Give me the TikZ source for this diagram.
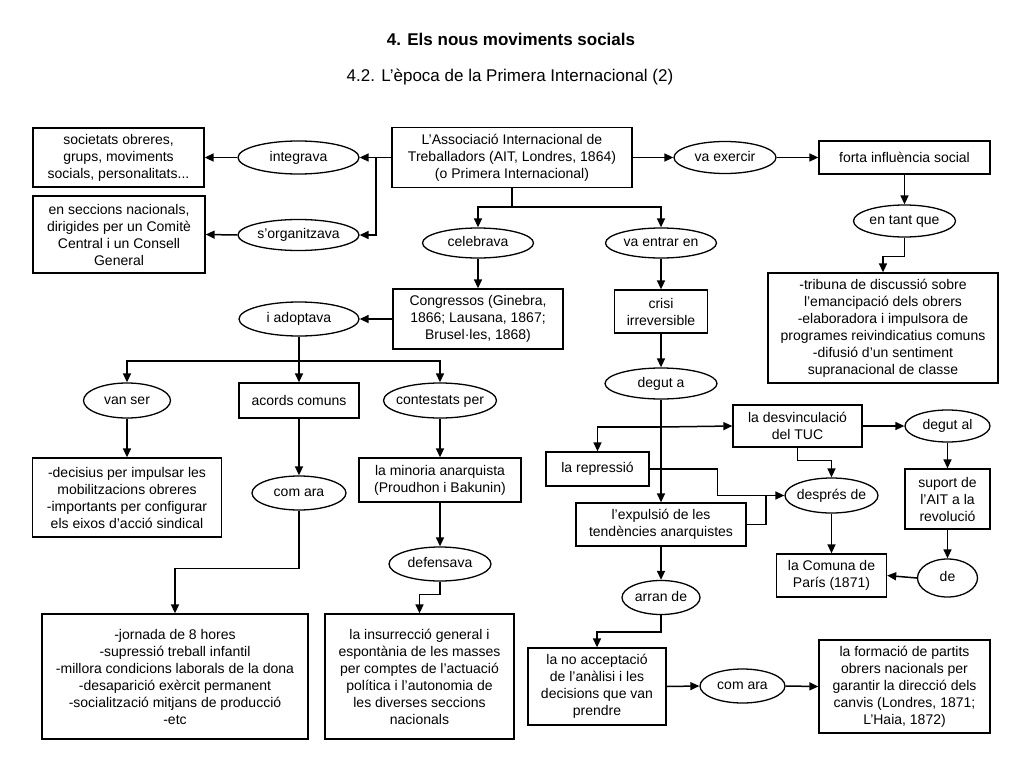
\documentclass[tikz,border=0pt]{standalone}
\usepackage{fontspec}
\setmainfont{Liberation Sans}
\usetikzlibrary{shapes.geometric,arrows.meta}
\tikzset{
  txt/.style={font=\fontsize{14}{17}\selectfont, align=center},
  box/.style={txt, draw, line width=1.3pt, rectangle, inner sep=0pt},
  oval/.style={txt, draw, line width=1.3pt, ellipse, inner xsep=-8pt, inner ysep=0pt, text height=10pt, text depth=3pt},
  arr/.style={line width=1.5pt, -{Triangle[length=9pt,width=8pt]}},
  ln/.style={line width=1.5pt},
  ttl/.style={font=\fontsize{17}{20}\selectfont\bfseries},
  subttl/.style={font=\fontsize{17}{20}\selectfont},
}
\begin{document}
\begin{tikzpicture}[x=1pt,y=-1pt]
\fill[white] (0,0) rectangle (1024,768);
\useasboundingbox (0,0) rectangle (1024,768);

% titles
\node[ttl] (t1) at (511,39) {4. Els nous moviments socials};
\node[subttl] (t2) at (510,77) {4.2. L’època de la Primera Internacional (2)};

% top row
\node[box, minimum width=171pt, minimum height=59pt] (soc) at (118.5,157.5) {societats obreres,\\grups, moviments\\socials, personalitats...};
\node[box, minimum width=172pt, minimum height=77pt] (secc) at (119,234.5) {en seccions nacionals,\\dirigides per un Comitè\\Central i un Consell\\General};
\node[oval, minimum width=121pt, minimum height=33pt] (integ) at (298.5,157.5) {integrava};
\node[oval, minimum width=121pt, minimum height=31pt] (sorg) at (298.5,235) {s’organitzava};
\node[box, minimum width=240pt, minimum height=60pt] (ait) at (512,157.5) {L’Associació Internacional de\\Treballadors (AIT, Londres, 1864)\\(o Primera Internacional)};
\node[oval, minimum width=102pt, minimum height=32pt] (vaex) at (725,157.5) {va exercir};
\node[box, minimum width=171pt, minimum height=33pt] (forta) at (904.5,157.5) {forta influència social};
\node[oval, minimum width=102pt, minimum height=32pt] (entq) at (904.5,221) {en tant que};
\node[box, minimum width=230pt, minimum height=110pt] (trib) at (883,328) {-tribuna de discussió sobre\\l’emancipació dels obrers\\-elaboradora i impulsora de\\programes reivindicatius comuns\\-difusió d’un sentiment\\supranacional de classe};

% second level
\node[oval, minimum width=111pt, minimum height=30pt] (celeb) at (478,243) {celebrava};
\node[oval, minimum width=111pt, minimum height=30pt] (vaent) at (661,243) {va entrar en};
\node[box, minimum width=170pt, minimum height=60pt] (cong) at (478,319) {Congressos (Ginebra,\\1866; Lausana, 1867;\\Brusel·les, 1868)};
\node[box, minimum width=93pt, minimum height=43pt] (crisi) at (661,311.5) {crisi\\irreversible};
\node[oval, minimum width=112pt, minimum height=31pt] (degut) at (661,383.5) {degut a};
\node[oval, minimum width=120pt, minimum height=34pt] (iadop) at (299,319) {i adoptava};

% left branch
\node[oval, minimum width=87pt, minimum height=35pt] (vanser) at (127,400.5) {van ser};
\node[box, minimum width=120pt, minimum height=35pt] (acords) at (299,400.5) {acords comuns};
\node[oval, minimum width=113pt, minimum height=35pt] (contest) at (440,400.5) {contestats per};
\node[box, minimum width=189pt, minimum height=79pt] (decis) at (127,497.5) {-decisius per impulsar les\\mobilitzacions obreres\\-importants per configurar\\els eixos d’acció sindical};
\node[oval, minimum width=94pt, minimum height=34pt] (comara1) at (299,493) {com ara};
\node[box, minimum width=162pt, minimum height=44pt] (minor) at (440,480) {la minoria anarquista\\(Proudhon i Bakunin)};
\node[oval, minimum width=102pt, minimum height=34pt] (defens) at (440,564) {defensava};
\node[box, minimum width=266pt, minimum height=125pt] (jorn) at (175,676.5) {-jornada de 8 hores\\-supressió treball infantil\\-millora condicions laborals de la dona\\-desaparició exèrcit permanent\\-socialització mitjans de producció\\-etc};
\node[box, minimum width=189pt, minimum height=125pt] (insur) at (419.5,676.5) {la insurrecció general i\\espontània de les masses\\per comptes de l’actuació\\política i l’autonomia de\\les diverses seccions\\nacionals};

% right-middle branch
\node[box, minimum width=129pt, minimum height=42pt] (desv) at (797.5,426) {la desvinculació\\del TUC};
\node[box, minimum width=103pt, minimum height=34pt] (repr) at (597.5,469) {la repressió};
\node[box, minimum width=170pt, minimum height=43pt] (expul) at (661,524.5) {l’expulsió de les\\tendències anarquistes};
\node[oval, minimum width=85pt, minimum height=32pt] (degutal) at (947.5,426) {degut al};
\node[box, minimum width=85pt, minimum height=60pt] (suport) at (947.5,499) {suport de\\l’AIT a la\\revolució};
\node[oval, minimum width=93pt, minimum height=35pt] (despres) at (831.5,495.5) {després de};
\node[box, minimum width=110pt, minimum height=43pt] (comuna) at (831.5,575.5) {la Comuna de\\París (1871)};
\node[oval, minimum width=60pt, minimum height=38pt] (de) at (947.5,578) {de};
\node[oval, minimum width=78pt, minimum height=34pt] (arran) at (661,597.5) {arran de};
\node[box, minimum width=138pt, minimum height=77pt] (noacc) at (597,686.5) {la no acceptació\\de l’anàlisi i les\\decisions que van\\prendre};
\node[oval, minimum width=85pt, minimum height=34pt] (comara2) at (742.5,686) {com ara};
\node[box, minimum width=171pt, minimum height=93pt] (form) at (904.5,686.5) {la formació de partits\\obrers nacionals per\\garantir la direcció dels\\canvis (Londres, 1871;\\L’Haia, 1872)};

% junction points
\coordinate (j1) at (376,157.5);
\coordinate (j2) at (512,207);
\coordinate (j3) at (661,427);
\coordinate (j4) at (766,495.5);
\coordinate (j5) at (299,361);

% connectors: top
\draw[ln] (ait.west) -- (j1);
\draw[arr] (j1) -- (integ.east);
\draw[arr] (j1) |- (sorg.east);
\draw[arr] (integ.west) -- (soc.east);
\draw[arr] (sorg.west) -- (secc.east);
\draw[arr] (ait.east) -- (vaex.west);
\draw[arr] (vaex.east) -- (forta.west);
\draw[arr] (forta.south) -- (entq.north);
\draw[arr] (entq.south) -- ++(0,19) -| (trib.north);

% ait downwards
\draw[ln] (ait.south) -- (j2);
\draw[arr] (j2) -| (celeb.north);
\draw[arr] (j2) -| (vaent.north);
\draw[arr] (celeb.south) -- (cong.north);
\draw[arr] (vaent.south) -- (crisi.north);
\draw[arr] (crisi.south) -- (degut.north);

% left branch
\draw[arr] (cong.west) -- (iadop.east);
\draw[ln] (iadop.south) -- (j5);
\draw[arr] (j5) -| (vanser.north);
\draw[arr] (j5) -- (acords.north);
\draw[arr] (j5) -| (contest.north);
\draw[arr] (vanser.south) -- (decis.north);
\draw[arr] (acords.south) -- (comara1.north);
\draw[arr] (contest.south) -- (minor.north);
\draw[arr] (comara1.south) -- ++(0,58) -| (jorn.north);
\draw[arr] (minor.south) -- (defens.north);
\draw[arr] (defens.south) -- ++(0,13) -| (insur.north);

% right-middle branch
\draw[arr] (degut.south) -- (expul.north);
\draw[arr] (j3) -| (repr.north);
\draw[arr] (j3) -- (desv.west);
\draw[arr] (repr.east) -- ++(68,0) |- (despres.west);
\draw[ln] (expul.east) -| (j4);
\draw[arr] (desv.south) -- ++(0,13) -| (despres.north);
\draw[arr] (despres.south) -- (comuna.north);
\draw[arr] (desv.east) -- (degutal.west);
\draw[arr] (degutal.south) -- (suport.north);
\draw[arr] (suport.south) -- (de.north);
\draw[arr] (de.west) -- (comuna.east);

% bottom
\draw[arr] (expul.south) -- (arran.north);
\draw[arr] (arran.south) -- ++(0,17) -| (noacc.north);
\draw[arr] (noacc.east) -- (comara2.west);
\draw[arr] (comara2.east) -- (form.west);
\end{tikzpicture}
\end{document}
